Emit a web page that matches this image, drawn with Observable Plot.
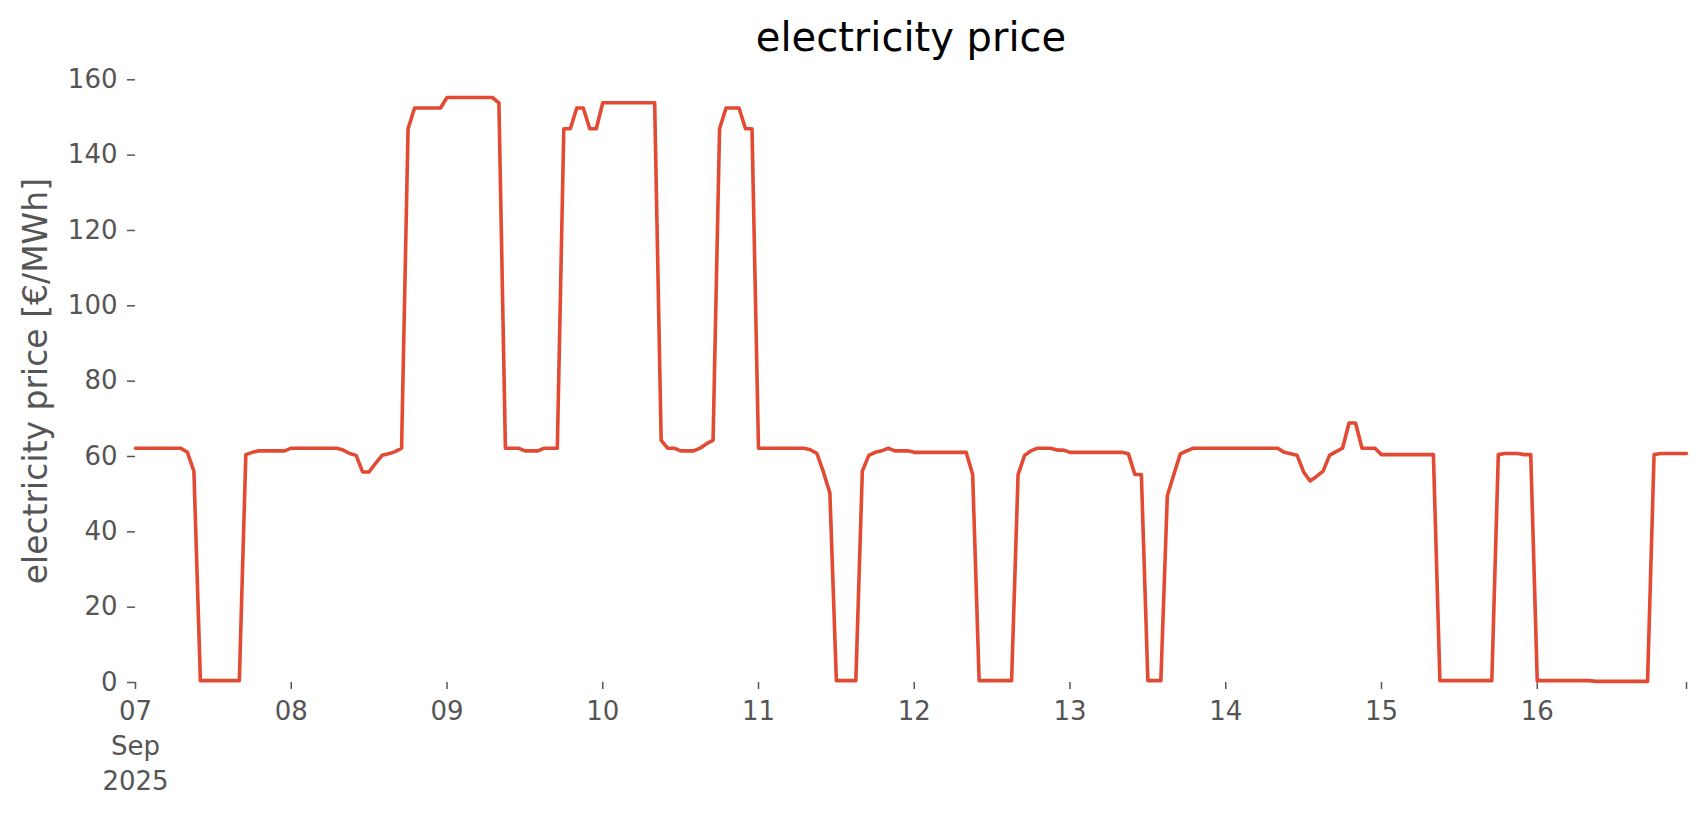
<!DOCTYPE html>
<html><head><meta charset="utf-8">
<script src="https://cdn.jsdelivr.net/npm/d3@7"></script>
<script src="https://cdn.jsdelivr.net/npm/@observablehq/plot@0.6"></script>
<style>
body{margin:0;background:#fff;font-family:"DejaVu Sans",sans-serif;}
#wrap{position:relative;width:1706px;height:815px;overflow:hidden;}
#title{position:absolute;left:136px;width:1550px;top:17px;text-align:center;font-size:40px;line-height:40px;color:#000;}
#chart{position:absolute;left:0;top:62px;}
</style></head><body>
<div id="wrap"><div id="title"></div><div id="chart"></div></div>
<script>
const title = "electricity price";
const yLabel = "electricity price [€/MWh]";
const dayLabels = ["07\nSep\n2025","08","09","10","11","12","13","14","15","16"];
const yTicks = [0,20,40,60,80,100,120,140,160];

// hourly prices, 00:00 .. 23:00 of each day (Sep 2025)
const sep07 = [62.2,62.2,62.2,62.2,62.2,62.2,62.2,62.2,61.1,56.1,0.5,0.5,0.5,0.5,0.5,0.5,0.5,60.5,61.1,61.5,61.5,61.5,61.5,61.5];
const sep08 = [62.2,62.2,62.2,62.2,62.2,62.2,62.2,62.2,61.7,60.8,60.3,55.9,55.9,58.2,60.3,60.7,61.3,62.2,147,152.5,152.5,152.5,152.5,152.5];
const sep09 = [155.3,155.3,155.3,155.3,155.3,155.3,155.3,155.3,153.9,62.2,62.2,62.2,61.5,61.5,61.5,62.2,62.2,62.2,147,147,152.5,152.5,147,147];
const sep10 = [153.9,153.9,153.9,153.9,153.9,153.9,153.9,153.9,153.9,64.3,62.2,62.2,61.5,61.5,61.5,62.2,63.4,64.3,147,152.5,152.5,152.5,147,147];
const sep11 = [62.2,62.2,62.2,62.2,62.2,62.2,62.2,62.2,61.8,60.8,55.9,50.3,0.5,0.5,0.5,0.5,56.1,60.3,61.1,61.5,62.2,61.5,61.5,61.5];
const sep12 = [61.1,61.1,61.1,61.1,61.1,61.1,61.1,61.1,61.1,55.2,0.5,0.5,0.5,0.5,0.5,0.5,55.2,60.3,61.5,62.2,62.2,62.2,61.7,61.7];
const sep13 = [61.1,61.1,61.1,61.1,61.1,61.1,61.1,61.1,61.1,60.7,55.2,55.2,0.5,0.5,0.5,49.6,55.2,60.7,61.5,62.2,62.2,62.2,62.2,62.2];
const sep14 = [62.2,62.2,62.2,62.2,62.2,62.2,62.2,62.2,62.2,61.1,60.7,60.3,55.9,53.5,54.7,56.1,60.3,61.3,62.2,68.9,68.9,62.2,62.2,62.2];
const sep15 = [60.5,60.5,60.5,60.5,60.5,60.5,60.5,60.5,60.5,0.5,0.5,0.5,0.5,0.5,0.5,0.5,0.5,0.5,60.5,60.8,60.8,60.8,60.5,60.5];
const sep16 = [0.5,0.5,0.5,0.5,0.5,0.5,0.5,0.5,0.5,0.3,0.3,0.3,0.3,0.3,0.3,0.3,0.3,0.3,60.5,60.8,60.8,60.8,60.8,60.8];

document.getElementById("title").textContent = title;

const days = [sep07, sep08, sep09, sep10, sep11, sep12, sep13, sep14, sep15, sep16];
const t0 = Date.UTC(2025, 8, 7);
const data = days.flatMap((vals, d) => vals.map((v, h) => ({date: new Date(t0 + (d * 24 + h) * 3600e3), price: v})));
const lastDate = data[data.length - 1].date;
const dayTicks = dayLabels.map((_, i) => new Date(t0 + i * 86400e3));
const xTicks = [...dayTicks, lastDate];
const fmt = d => { const i = dayTicks.findIndex(t => +t === +d); return i >= 0 ? dayLabels[i] : ""; };

const plot = Plot.plot({
  width: 1706, height: 753,
  marginLeft: 135, marginRight: 20, marginTop: 17.3, marginBottom: 133,
  style: {fontFamily: "DejaVu Sans", background: "white", overflow: "visible"},
  x: {type: "utc", domain: [dayTicks[0], lastDate]},
  y: {domain: [0, 160]},
  marks: [
    Plot.axisY({ticks: yTicks, tickSize: 8, tickPadding: 10, fontSize: 26, color: "#555555", strokeWidth: 1.5, strokeOpacity: 1, label: null, tickFormat: d => String(d)}),
    Plot.axisX({ticks: xTicks, tickSize: 7, tickPadding: 5, fontSize: 26, lineHeight: 1.36, color: "#555555", strokeWidth: 1.5, strokeOpacity: 1, tickFormat: fmt, label: null}),
    Plot.text([yLabel], {frameAnchor: "left", dx: -99, rotate: -90, textAnchor: "middle", fontSize: 33, fill: "#555555", text: d => d}),
    Plot.lineY(data, {x: "date", y: "price", stroke: "#E24A33", strokeWidth: 3.6})
  ]
});
document.getElementById("chart").appendChild(plot);
</script>
</body></html>
